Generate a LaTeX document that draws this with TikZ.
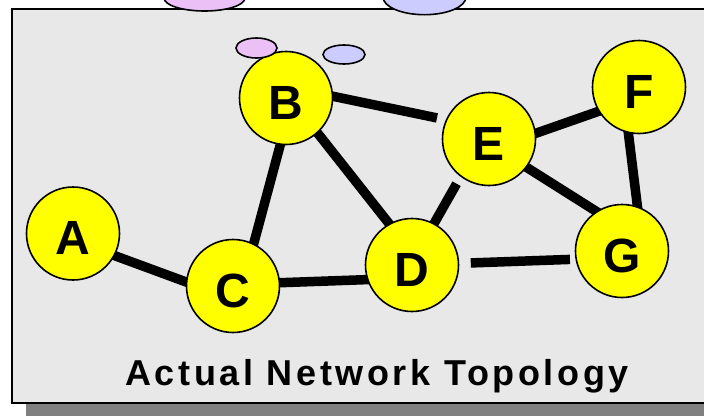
\documentclass[tikz,border=0pt]{standalone}
\usepackage{fontspec}
\setmainfont{Liberation Sans}

\definecolor{panelgrey}{RGB}{232,232,232}
\definecolor{shadowgrey}{RGB}{128,128,128}
\definecolor{siteyellow}{RGB}{255,255,0}
\definecolor{lilac}{RGB}{234,192,246}
\definecolor{periwinkle}{RGB}{204,204,255}

\pgfdeclarelayer{panel}
\pgfdeclarelayer{links}
\pgfsetlayers{panel,links,main}

\begin{document}
\begin{tikzpicture}[x=1pt,y=-1pt,
  site/.style={circle, draw=black, line width=1.6pt, fill=siteyellow,
    minimum size=93pt, inner sep=0pt,
    font=\fontsize{48}{48}\selectfont\bfseries,
    text height=42pt, text depth=0pt},
  link/.style={line width=9.5pt, line cap=butt},
  touch/.style={shorten <=-6pt, shorten >=-6pt},
  blob/.style={draw=black, line width=1.6pt}]

\useasboundingbox (0,0) rectangle (704,415);

% grey panel with its drop shadow
\begin{pgfonlayer}{panel}
  \fill[shadowgrey] (26,21) rectangle (740,430);
  \draw[fill=panelgrey, line width=1.8pt] (12,9) rectangle (725,403);
\end{pgfonlayer}

% network sites
\node[site] (A) at (73,233.5) {A};
\node[site] (B) at (286,98)   {B};
\node[site] (C) at (233,286)  {C};
\node[site] (D) at (412,265)  {D};
\node[site] (E) at (489,139)  {E};
\node[site] (F) at (639,87)   {F};
\node[site] (G) at (622,251)  {G};

% links between sites
\begin{pgfonlayer}{links}
  \draw[link, touch] (A.-28) -- (C.175);
  \draw[link, touch] (B.-97) -- (C.64);
  \draw[link, touch] (C.4)   -- (D.198);
  \draw[link, touch] (B.-48) -- (D.119);
  \draw[link, shorten <=-6pt, shorten >=8pt] (D.62) -- (E.233);
  \draw[link, shorten <=-6pt, shorten >=9pt] (B.2)  -- (E.156);
  \draw[link, touch] (E.7)   -- (F.211);
  \draw[link, touch] (E.-37) -- (G.123);
  \draw[link, touch] (F.-103) -- (G.71);
  \draw[link, shorten <=11.5pt, shorten >=5.5pt] (D.2) -- (G.190);
\end{pgfonlayer}

% small clouds near B
\draw[blob, fill=lilac]      (256.5,48) ellipse [x radius=20.5pt, y radius=10pt];
\draw[blob, fill=periwinkle] (344,54.5) ellipse [x radius=21pt, y radius=9.5pt];

% clouds at the top edge
\draw[blob, fill=lilac]      (204.5,-2) ellipse [x radius=40.5pt, y radius=13pt];
\draw[blob, fill=periwinkle] (424.5,-3) ellipse [x radius=41.5pt, y radius=17.7pt];

% caption
\node[anchor=base, inner sep=0pt] (caption) at (377,385)
  {\fontsize{36}{36}\selectfont\bfseries\addfontfeature{LetterSpace=10}Actual Network Topology};
\end{tikzpicture}
\end{document}
